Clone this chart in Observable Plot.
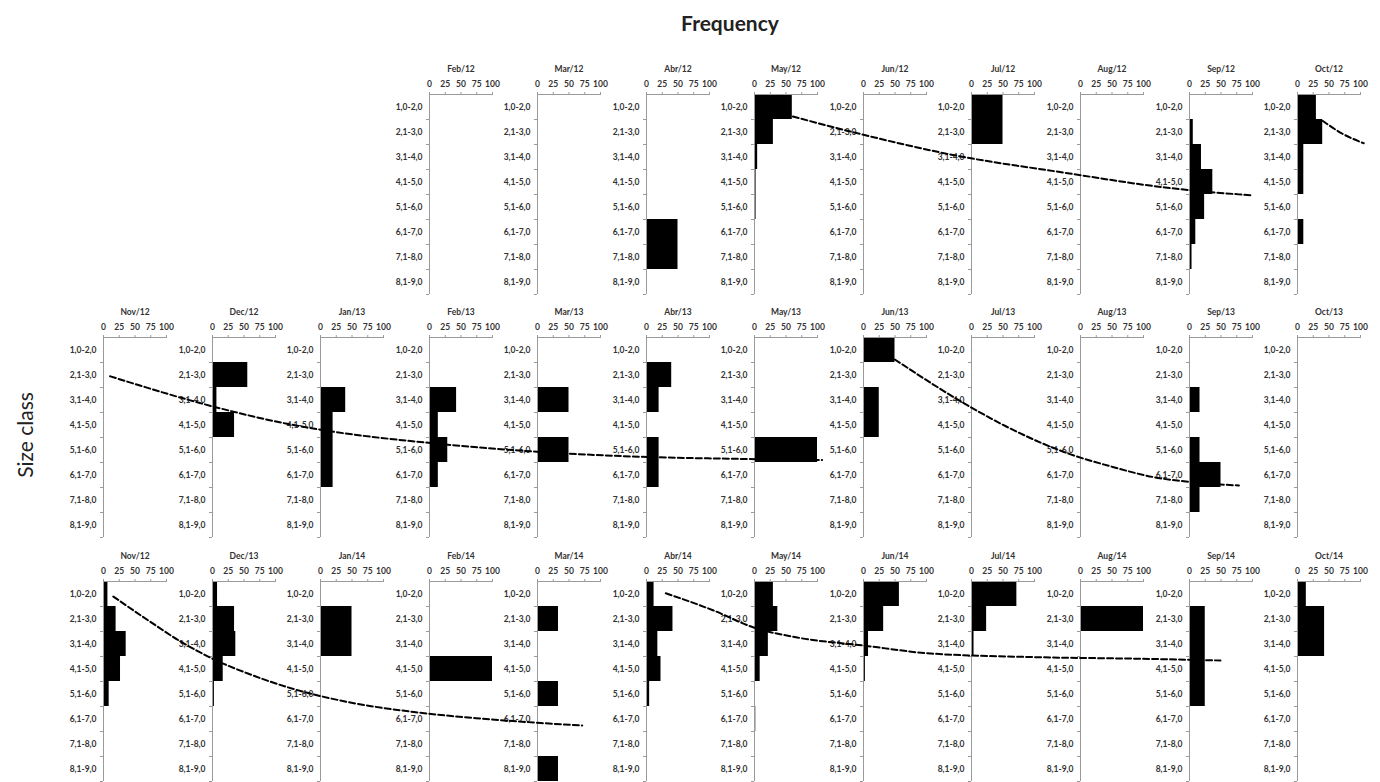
<!DOCTYPE html>
<html>
<head>
<meta charset="utf-8">
<script src="https://cdn.jsdelivr.net/npm/d3@7"></script>
<script src="https://cdn.jsdelivr.net/npm/@observablehq/plot@0.6"></script>
<style>
  body { margin: 0; background: #fff; }
  #fig { position: relative; width: 1380px; height: 782px; overflow: hidden; background: #fff; font-family: Lato, "Open Sans", sans-serif; }
  #fig svg { position: absolute; overflow: visible; background: transparent; max-width: none; }
  #title { position: absolute; left: 530px; width: 400px; top: 10px; line-height: 26px; text-align: center; font-size: 21px; font-weight: bold; color: #222; }
  #ylab { position: absolute; left: 24px; top: 435px; transform: translate(-50%, -50%) rotate(-90deg); white-space: nowrap; font-size: 21px; color: #222; }
</style>
</head>
<body>
<div id="fig">
  <div id="title">Frequency</div>
  <div id="ylab">Size class</div>
</div>
<script>
// ---------- data ----------
const sizeClasses = ["1,0-2,0", "2,1-3,0", "3,1-4,0", "4,1-5,0", "5,1-6,0", "6,1-7,0", "7,1-8,0", "8,1-9,0"];
const freqTicks = [0, 25, 50, 75, 100];

const row1Months = ["Feb/12", "Mar/12", "Abr/12", "May/12", "Jun/12", "Jul/12", "Aug/12", "Sep/12", "Oct/12"];
const row1Freq = [
  [0, 0, 0, 0, 0, 0, 0, 0],
  [0, 0, 0, 0, 0, 0, 0, 0],
  [0, 0, 0, 0, 0, 50, 50, 0],
  [60, 30, 5, 2.5, 2.5, 0, 0, 0],
  [0, 0, 0, 0, 0, 0, 0, 0],
  [50, 50, 0, 0, 0, 0, 0, 0],
  [0, 0, 0, 0, 0, 0, 0, 0],
  [0, 6, 19, 37, 24, 10, 4, 0],
  [30, 40, 10, 10, 0, 10, 0, 0]
];
const row2Months = ["Nov/12", "Dec/12", "Jan/13", "Feb/13", "Mar/13", "Abr/13", "May/13", "Jun/13", "Jul/13", "Aug/13", "Sep/13", "Oct/13"];
const row2Freq = [
  [0, 0, 0, 0, 0, 0, 0, 0],
  [0, 56, 7, 35, 0, 0, 0, 0],
  [0, 0, 40, 20, 20, 20, 0, 0],
  [0, 0, 43, 14, 29, 14, 0, 0],
  [0, 0, 50, 0, 50, 0, 0, 0],
  [0, 40, 20, 0, 20, 20, 0, 0],
  [0, 0, 0, 0, 100, 0, 0, 0],
  [50, 0, 25, 25, 0, 0, 0, 0],
  [0, 0, 0, 0, 0, 0, 0, 0],
  [0, 0, 0, 0, 0, 0, 0, 0],
  [0, 0, 16.7, 0, 16.7, 50, 16.7, 0],
  [0, 0, 0, 0, 0, 0, 0, 0]
];
const row3Months = ["Nov/12", "Dec/13", "Jan/14", "Feb/14", "Mar/14", "Abr/14", "May/14", "Jun/14", "Jul/14", "Aug/14", "Sep/14", "Oct/14"];
const row3Freq = [
  [7, 20, 36, 27, 9, 1, 0, 0],
  [8, 35, 37, 17, 3, 0, 0, 0],
  [0, 50, 50, 0, 0, 0, 0, 0],
  [0, 0, 0, 100, 0, 0, 0, 0],
  [0, 33.3, 0, 0, 33.3, 0, 0, 33.3],
  [12, 42, 18, 23, 5, 0, 0, 0],
  [30, 37, 22, 9, 0, 2, 0, 0],
  [57, 32, 8, 3, 0, 0, 0, 0],
  [72, 24, 4, 0, 0, 0, 0, 0],
  [0, 100, 0, 0, 0, 0, 0, 0],
  [0, 25, 25, 25, 25, 0, 0, 0],
  [14, 43, 43, 0, 0, 0, 0, 0]
];

// cohort growth curves: [month position (panel column), size (cm)]
const curveRow1A = [[6.35, 1.88], [6.88, 2.48], [7.85, 3.44], [8.84, 4.12], [9.78, 4.72], [10.59, 5.04]];
const curveRow1B = [[11.23, 2.05], [11.41, 2.56], [11.61, 2.95]];
const curveRow2A = [[0.06, 2.55], [1.00, 3.75], [1.69, 4.45], [2.09, 4.75], [3.01, 5.22], [4.03, 5.58], [5.01, 5.78], [5.78, 5.85], [6.62, 5.9]];
const curveRow2B = [[7.29, 1.88], [7.99, 3.79], [8.33, 4.59], [8.94, 5.72], [9.25, 6.12], [9.68, 6.59], [10.04, 6.79], [10.46, 6.92]];
const curveRow3A = [[0.09, 1.6], [0.41, 2.55], [0.71, 3.4], [1.01, 4.1], [1.33, 4.68], [1.75, 5.3], [2.25, 5.82], [2.86, 6.22], [3.47, 6.48], [4.03, 6.66], [4.41, 6.76]];
const curveRow3B = [[5.18, 1.47], [5.62, 2.16], [5.99, 2.84], [6.39, 3.24], [7.00, 3.56], [7.62, 3.88], [8.63, 4.03], [9.55, 4.09], [10.29, 4.16]];

// ---------- layout ----------
const FIG_W = 1380;
const X0 = 103, COLW = 108.55;          // x of first panel's zero line, column pitch
const ROW_TOP = [94, 337, 581];
const PANEL_W = 63, BAND = 25;
const ML = 50, MR = 8, MT = 40, MB = 6;
const AXIS_GRAY = "#9a9a9a";
const fig = document.getElementById("fig");

function panel(month, values, col, top) {
  const records = values.map((v, i) => ({cls: sizeClasses[i], lo: i + 1, hi: i + 2, v}));
  const svg = Plot.plot({
    width: ML + PANEL_W + MR,
    height: MT + sizeClasses.length * BAND + MB,
    marginLeft: ML, marginRight: MR, marginTop: MT, marginBottom: MB,
    style: "font-family: Lato, 'Open Sans', sans-serif; font-size: 8.5px; font-weight: bold; color: #333; background: transparent; overflow: visible;",
    x: {domain: [0, 100]},
    y: {domain: [1, sizeClasses.length + 1], reverse: true},
    marks: [
      Plot.rect(records, {x1: () => 0, x2: "v", y1: "lo", y2: "hi", fill: "black"}),
      Plot.ruleX([0], {stroke: AXIS_GRAY}),
      Plot.ruleY([1], {stroke: AXIS_GRAY}),
      Plot.axisX({anchor: "top", ticks: freqTicks, tickSize: 3, tickFormat: () => "", stroke: AXIS_GRAY, color: AXIS_GRAY, label: null}),
      Plot.axisX({anchor: "top", ticks: freqTicks, tickSize: 0, tickPadding: 8, label: null, color: "#333"}),
      Plot.axisY({ticks: d3.range(2, sizeClasses.length + 2), tickSize: 3, tickFormat: () => "", stroke: AXIS_GRAY, color: AXIS_GRAY, label: null}),
      Plot.axisY({ticks: sizeClasses.map((c, i) => i + 1.5), tickSize: 0, tickPadding: 7, tickFormat: t => sizeClasses[Math.round(t - 1.5)], label: null, color: "#333"}),
      Plot.text([month], {frameAnchor: "top", dy: -29, fill: "#333"})
    ]
  });
  svg.style.left = (X0 + col * COLW - ML) + "px";
  svg.style.top = (top - MT) + "px";
  fig.appendChild(svg);
}

function overlay(curves, top) {
  const svg = Plot.plot({
    width: FIG_W,
    height: MT + sizeClasses.length * BAND + MB,
    marginLeft: 0, marginRight: 0, marginTop: MT, marginBottom: MB,
    style: "background: transparent; overflow: visible;",
    x: {domain: [-X0 / COLW, (FIG_W - X0) / COLW], axis: null},
    y: {domain: [1, sizeClasses.length + 1], reverse: true, axis: null},
    marks: curves.map(c => Plot.line(c, {x: d => d[0], y: d => d[1], curve: "monotone-x", stroke: "black", strokeWidth: 2, strokeDasharray: "6,3"}))
  });
  svg.style.left = "0px";
  svg.style.top = (top - MT) + "px";
  fig.appendChild(svg);
}

row1Months.forEach((m, i) => panel(m, row1Freq[i], i + 3, ROW_TOP[0]));
row2Months.forEach((m, i) => panel(m, row2Freq[i], i, ROW_TOP[1]));
row3Months.forEach((m, i) => panel(m, row3Freq[i], i, ROW_TOP[2]));

overlay([curveRow1A, curveRow1B], ROW_TOP[0]);
overlay([curveRow2A, curveRow2B], ROW_TOP[1]);
overlay([curveRow3A, curveRow3B], ROW_TOP[2]);
</script>
</body>
</html>
